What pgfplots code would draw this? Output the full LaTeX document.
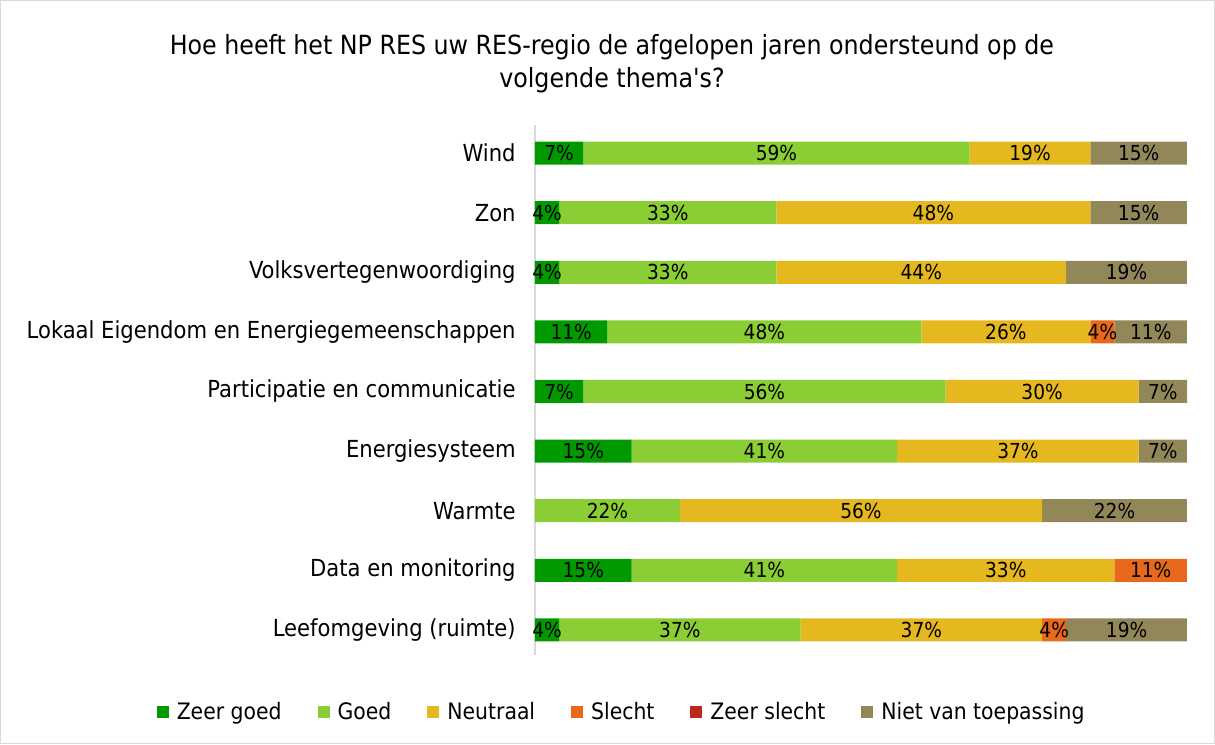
\documentclass[border=0pt]{standalone}
\usepackage{pgfplots}
\pgfplotsset{compat=1.18}
\usepackage{pgfplotstable}
\usepackage{fontspec}
\setmainfont{DejaVu Sans Condensed}
\definecolor{zg}{HTML}{009A00}
\definecolor{gd}{HTML}{8BCD34}
\definecolor{nt}{HTML}{E6B820}
\definecolor{sl}{HTML}{E8681C}
\definecolor{zs}{HTML}{C0281C}
\definecolor{nv}{HTML}{918758}
\definecolor{lineg}{HTML}{D9D9D9}

\pgfplotstableread{
y zg g n s zs nvt
8 7.41 59.26 18.52 0 0 14.81
7 3.70 33.33 48.15 0 0 14.81
6 3.70 33.33 44.44 0 0 18.52
5 11.11 48.15 25.93 3.70 0 11.11
4 7.41 55.56 29.63 0 0 7.41
3 14.81 40.74 37.04 0 0 7.41
2 0 22.22 55.56 0 0 22.22
1 14.81 40.74 33.33 11.11 0 0
0 3.70 37.04 37.04 3.70 0 18.52
}\data

\begin{document}
\begin{tikzpicture}
\begin{axis}[
  xbar stacked, bar width=17.25pt,
  scale only axis, width=489pt, height=397.5pt,
  xmin=0, xmax=100, ymin=-0.42, ymax=8.47,
  axis x line=none, axis y line*=left,
  y axis line style={draw=lineg, line width=1.5pt, -},
  ytick={0,...,8},
  yticklabels={Leefomgeving (ruimte), Data en monitoring, Warmte, Energiesysteem, Participatie en communicatie, Lokaal Eigendom en Energiegemeenschappen, Volksvertegenwoordiging, Zon, Wind},
  ytick style={draw=none},
  yticklabel style={font=\fontsize{17.6}{18}\selectfont, xshift=-11pt},
  point meta=explicit,
  /pgf/number format/assume math mode=true,
  nodes near coords={\pgfmathfloatifflags{\pgfplotspointmeta}{0}{}{\pgfmathprintnumber[fixed,precision=0,assume math mode=true]{\pgfplotspointmeta}\%}},
  nodes near coords align={center},
  every node near coord/.append style={font=\fontsize{15.5}{16}\selectfont, text=black},
  legend columns=6,
  legend style={draw=none, at={(0.1334,-0.1075)}, anchor=center, font=\fontsize{17}{18}\selectfont,
    /tikz/every even column/.append style={column sep=25pt}},
  legend image code/.code={\fill[#1] (0pt,-4.5pt) rectangle (9pt,4.5pt); \path (13pt,0pt);},
  clip=false,
]
\addplot[fill=zg, draw=none] table[x=zg, y=y, meta=zg] {\data};
\addplot[fill=gd, draw=none] table[x=g, y=y, meta=g] {\data};
\addplot[fill=nt, draw=none] table[x=n, y=y, meta=n] {\data};
\addplot[fill=sl, draw=none] table[x=s, y=y, meta=s] {\data};
\addplot[fill=zs, draw=none] table[x=zs, y=y, meta=zs] {\data};
\addplot[fill=nv, draw=none] table[x=nvt, y=y, meta=nvt] {\data};
\legend{Zeer goed, Goed, Neutraal, Slecht, Zeer slecht, Niet van toepassing}
\end{axis}
\node[align=center, font=\fontsize{19.8}{24.75}\selectfont] at ([shift={(57.75pt,443.6pt)}]current axis.south west) {Hoe heeft het NP RES uw RES-regio de afgelopen jaren ondersteund op de\\volgende thema\textquotesingle s?};
\draw[lineg, line width=0.75pt] ([shift={(-400.875pt,-66.375pt)}]current axis.south west) rectangle ([shift={(509.625pt,490.875pt)}]current axis.south west);
\end{tikzpicture}
\end{document}
